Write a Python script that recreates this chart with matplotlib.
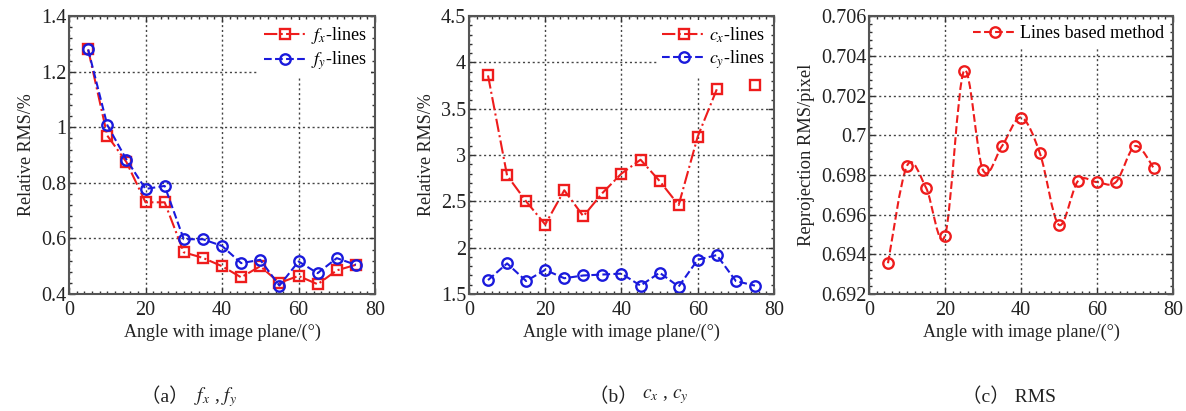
import numpy as np
import matplotlib
matplotlib.use('Agg')
import matplotlib.pyplot as plt
from matplotlib.path import Path
from matplotlib.patches import PathPatch
from matplotlib.lines import Line2D
from matplotlib.ticker import MultipleLocator, FuncFormatter

plt.rcParams['font.family'] = ['Liberation Serif', 'Noto Sans CJK SC']
plt.rcParams['mathtext.fontset'] = 'stix'

# angle with image plane (deg)
angles = [5, 10, 15, 20, 25, 30, 35, 40, 45, 50, 55, 60, 65, 70, 75]

# (a) relative RMS of fx / fy (%)
fx_rms = [1.28, 0.97, 0.875, 0.73, 0.73, 0.55, 0.53, 0.50, 0.46, 0.50, 0.44, 0.465, 0.435, 0.485, 0.505]
fy_rms = [1.28, 1.008, 0.884, 0.778, 0.789, 0.597, 0.597, 0.573, 0.511, 0.523, 0.43, 0.517, 0.475, 0.529, 0.505]

# (b) relative RMS of cx / cy (%), cx at 70 deg missing
cx_rms = [3.86, 2.78, 2.50, 2.25, 2.62, 2.34, 2.59, 2.80, 2.95, 2.72, 2.46, 3.20, 3.71, np.nan, 3.76]
cy_rms = [1.65, 1.83, 1.64, 1.76, 1.67, 1.70, 1.71, 1.72, 1.59, 1.73, 1.58, 1.87, 1.92, 1.64, 1.59]

# (c) reprojection RMS (pixel)
reproj_rms = [0.69355, 0.69846, 0.69736, 0.69494, 0.70324, 0.69824, 0.69945, 0.70089,
              0.69908, 0.69548, 0.69769, 0.69764, 0.69764, 0.69945, 0.69833]

RED = '#ee1c1c'
BLUE = '#1a1adc'
FS = 13


def smooth_path(x, y):
    # catmull-rom curve through the points, as cubic beziers
    pts = np.column_stack([x, y]).astype(float)
    n = len(pts)
    verts = [pts[0]]
    codes = [Path.MOVETO]
    for i in range(n - 1):
        p0 = pts[max(i - 1, 0)]
        p1 = pts[i]
        p2 = pts[i + 1]
        p3 = pts[min(i + 2, n - 1)]
        c1 = p1 + (p2 - p0) / 6.0
        c2 = p2 - (p3 - p1) / 6.0
        verts += [c1, c2, p2]
        codes += [Path.CURVE4] * 3
    return Path(verts, codes)


def style_axes(ax, ylim, ystep, yminor):
    ax.set_xlim(0, 80)
    ax.set_ylim(*ylim)
    ax.xaxis.set_major_locator(MultipleLocator(20))
    ax.xaxis.set_minor_locator(MultipleLocator(2))
    ax.yaxis.set_major_locator(MultipleLocator(ystep))
    ax.yaxis.set_minor_locator(MultipleLocator(yminor))
    ax.yaxis.set_major_formatter(FuncFormatter(lambda v, p: '%g' % round(v, 6)))
    ax.tick_params(which='both', direction='in', top=True, right=True,
                   colors='#333333', labelcolor='#222222', labelsize=14.5)
    ax.tick_params(which='major', length=4, width=1)
    ax.tick_params(which='minor', length=2.5, width=1)
    ax.tick_params(axis='x', pad=5)
    ax.tick_params(axis='y', pad=2)
    ax.grid(True, which='major', linestyle=(0, (1.5, 2)), color='#444444', linewidth=1)
    for s in ax.spines.values():
        s.set_color('#555555')
        s.set_linewidth(1.5)
    ax.set_xlabel('Angle with image plane/(°)', fontsize=FS, color='#222222', labelpad=3)


fig = plt.figure(figsize=(11.86, 4.11), dpi=100)
ax_a = fig.add_axes([0.0582, 0.2847, 0.258, 0.676])
ax_b = fig.add_axes([0.3954, 0.2847, 0.2572, 0.676])
ax_c = fig.add_axes([0.7327, 0.2847, 0.2563, 0.676])

mk = dict(markersize=7.5, markerfacecolor='none', markeredgewidth=1.7)
leg_kw = dict(loc='upper right', fontsize=13, handlelength=2.4, handletextpad=0.2,
              borderpad=0.3, labelspacing=0.2, framealpha=1, edgecolor='none',
              fancybox=False, borderaxespad=0.2)

# (a)
style_axes(ax_a, (0.4, 1.4), 0.2, 0.04)
ax_a.plot(angles, fx_rms, color=RED, linestyle='-.', linewidth=1.5, marker='s', label='$f_x$-lines', **mk)
ax_a.plot(angles, fy_rms, color=BLUE, linestyle='--', linewidth=1.5, marker='o', label='$f_y$-lines', **mk)
ax_a.set_ylabel('Relative RMS/%', fontsize=FS, color='#222222', labelpad=4)
ax_a.legend(**leg_kw)

# (b)
style_axes(ax_b, (1.5, 4.5), 0.5, 0.1)
ax_b.plot(angles, cx_rms, color=RED, linestyle='-.', linewidth=1.5, marker='s', label='$c_x$-lines', **mk)
ax_b.plot(angles, cy_rms, color=BLUE, linestyle='--', linewidth=1.5, marker='o', label='$c_y$-lines', **mk)
ax_b.set_ylabel('Relative RMS/%', fontsize=FS, color='#222222', labelpad=4)
ax_b.legend(**leg_kw)

# (c) smoothed line through the points
style_axes(ax_c, (0.692, 0.706), 0.002, 0.0004)
ax_c.add_patch(PathPatch(smooth_path(angles, reproj_rms), fill=False, edgecolor=RED,
                         linestyle='--', linewidth=1.5))
ax_c.plot(angles, reproj_rms, color=RED, linestyle='none', marker='o', **mk)
ax_c.set_ylabel('Reprojection RMS/pixel', fontsize=FS + 0.3, color='#222222', labelpad=4)
handle = Line2D([], [], color=RED, linestyle='--', linewidth=1.5, marker='o', **mk)
ax_c.legend([handle], ['Lines based method'], **leg_kw)

# captions: label part and math part as separate texts
cap_kw = dict(fontsize=14, va='center', color='#222222')
fig.text(0.1635, 0.034, '（a） ', ha='right', **cap_kw)
fig.text(0.1635, 0.034, '$f_x$ , $f_y$', ha='left', **cap_kw)
fig.text(0.5415, 0.034, '（b） ', ha='right', **cap_kw)
fig.text(0.5415, 0.034, '$c_x$ , $c_y$', ha='left', **cap_kw)
fig.text(0.851, 0.034, '（c） RMS', ha='center', **cap_kw)

fig.savefig('out.png', dpi=100)
